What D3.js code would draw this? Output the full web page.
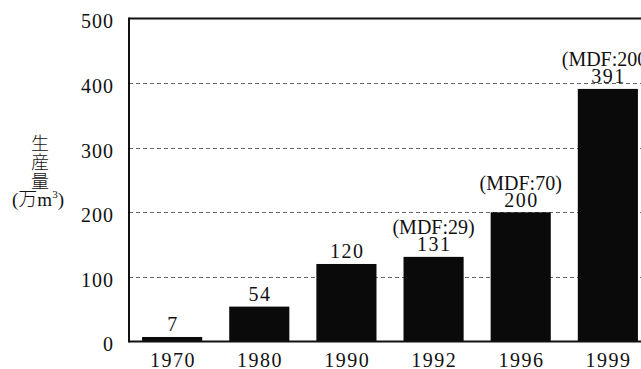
<!DOCTYPE html>
<html>
<head>
<meta charset="utf-8">
<script src="https://cdn.jsdelivr.net/npm/d3@7"></script>
<style>
  html, body { margin: 0; padding: 0; background: #fff; }
  svg { display: block; }
  text { font-family: "Liberation Serif", "Times New Roman", serif; fill: #111; }
</style>
</head>
<body>
<svg id="chart" width="641" height="369"></svg>
<script>
// Production volume by year (万m³), with the MDF share noted for later years
const years = ["1970", "1980", "1990", "1992", "1996", "1999"];
const production = [7, 54, 120, 131, 200, 391];
const mdfShare = [null, null, null, 29, 70, 200];
const yTicks = [0, 100, 200, 300, 400, 500];
const yTitleChars = ["生", "産", "量"];

const svg = d3.select("#chart");
const margin = { left: 129, top: 18.5, bottom: 341.5, right: 651 };
const serif = "'Liberation Serif', 'Times New Roman', serif";

const x = d3.scaleBand()
  .domain(years)
  .range([margin.left, margin.right])
  .paddingInner(0.31)
  .paddingOuter(0.15);

const y = d3.scaleLinear()
  .domain([0, 500])
  .range([margin.bottom, margin.top]);

// dashed gridlines at inner ticks
svg.append("g")
  .selectAll("line")
  .data(yTicks.filter(t => t > 0 && t < 500))
  .join("line")
  .attr("x1", margin.left)
  .attr("x2", 641)
  .attr("y1", d => Math.round(y(d)) + 0.5)
  .attr("y2", d => Math.round(y(d)) + 0.5)
  .attr("stroke", "#666")
  .attr("stroke-width", 1)
  .attr("stroke-dasharray", "4,3");

// bars
svg.append("g")
  .selectAll("rect")
  .data(production)
  .join("rect")
  .attr("x", (d, i) => x(years[i]))
  .attr("width", x.bandwidth())
  .attr("y", d => y(d))
  .attr("height", d => y(0) - y(d))
  .attr("fill", "#0a0a0a");

// frame: top line, left axis, baseline
svg.append("line")
  .attr("x1", margin.left).attr("x2", 641)
  .attr("y1", y(500)).attr("y2", y(500))
  .attr("stroke", "#111").attr("stroke-width", 2);
svg.append("line")
  .attr("x1", margin.left).attr("x2", 641)
  .attr("y1", y(0)).attr("y2", y(0))
  .attr("stroke", "#111").attr("stroke-width", 2);
svg.append("line")
  .attr("x1", margin.left).attr("x2", margin.left)
  .attr("y1", y(500) - 1).attr("y2", y(0) + 1)
  .attr("stroke", "#111").attr("stroke-width", 2);

// y axis tick labels
const yAxis = svg.append("g")
  .attr("transform", `translate(${margin.left},0)`)
  .call(d3.axisLeft(y).tickValues(yTicks).tickSize(0).tickPadding(15))
  .attr("font-family", serif)
  .attr("font-size", 20)
  .attr("letter-spacing", 1);
yAxis.select(".domain").remove();
yAxis.selectAll("text")
  .attr("dy", "0.47em")
  .attr("fill", "#111");

// x axis labels
const xAxis = svg.append("g")
  .attr("transform", `translate(0,${y(0)})`)
  .call(d3.axisBottom(x).tickSize(0).tickPadding(11))
  .attr("font-family", serif)
  .attr("font-size", 20)
  .attr("letter-spacing", 1.5);
xAxis.select(".domain").remove();
xAxis.selectAll("text")
  .attr("dx", 0.75)
  .attr("fill", "#111");

// value labels above bars
const labels = svg.append("g")
  .attr("font-family", serif)
  .attr("font-size", 20)
  .attr("text-anchor", "middle");
labels.selectAll("text.value")
  .data(production)
  .join("text")
  .attr("class", "value")
  .attr("x", (d, i) => x(years[i]) + x.bandwidth() / 2 + 0.75)
  .attr("y", d => y(d) - 5.5)
  .attr("letter-spacing", 1.5)
  .text(d => d);
labels.selectAll("text.mdf")
  .data(mdfShare.map((m, i) => ({ m, i })).filter(d => d.m !== null))
  .join("text")
  .attr("class", "mdf")
  .attr("x", d => x(years[d.i]) + x.bandwidth() / 2)
  .attr("y", d => y(production[d.i]) - 22.5)
  .text(d => `(MDF:${d.m})`);

// y axis title, stacked vertically
const title = svg.append("g")
  .attr("text-anchor", "middle")
  .attr("font-size", 18);
title.selectAll("text.ch")
  .data(yTitleChars)
  .join("text")
  .attr("class", "ch")
  .attr("x", 40)
  .attr("y", (d, i) => 150 + i * 19)
  .style("font-family", "'Noto Sans CJK JP', sans-serif")
  .style("font-weight", 300)
  .text(d => d);
const unit = title.append("text")
  .attr("x", 38)
  .attr("y", 206)
  .attr("font-size", 19)
  .style("font-family", "'Liberation Serif', 'Noto Sans CJK JP', serif");
unit.append("tspan").text("(");
unit.append("tspan").style("font-family", "'Noto Sans CJK JP', sans-serif").style("font-weight", 300).text("万");
unit.append("tspan").text("m");
unit.append("tspan").attr("font-size", 11).attr("dy", -8).text("3");
unit.append("tspan").attr("dy", 8).text(")");
</script>
</body>
</html>
